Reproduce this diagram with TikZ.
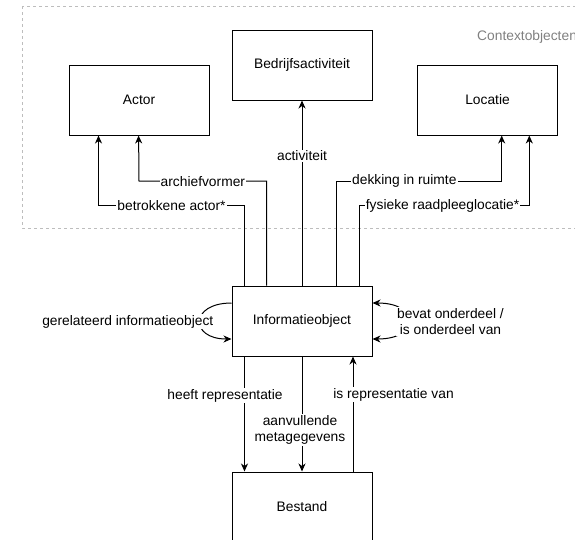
\documentclass[tikz,border=0pt]{standalone}
\usepackage{fontspec}
\setmainfont{Liberation Sans}
\usetikzlibrary{arrows.meta,calc}
\definecolor{ctxgray}{HTML}{808080}
\definecolor{dashgray}{HTML}{BDBDBD}
\begin{document}
\begin{tikzpicture}[x=1pt,y=-1pt,
  every node/.style={font=\fontsize{13.8}{16.6}\selectfont},
  box/.style={draw, line width=1pt, minimum width=140pt, minimum height=70pt, inner sep=0pt, fill=white},
  conn/.style={line width=1pt, -{Stealth[length=8pt,width=7pt,inset=2.5pt]}},
  connboth/.style={line width=1pt, {Stealth[length=8pt,width=7pt,inset=2.5pt]}-{Stealth[length=8pt,width=7pt,inset=2.5pt]}},
  lbl/.style={fill=white, inner sep=1pt, align=center},
  grp/.style={draw=dashgray, line width=0.8pt, dash pattern=on 3pt off 3pt}]
\useasboundingbox (0,0) rectangle (575,539);
\clip (0,0) rectangle (575,539);

% group
\draw[grp] (22,6) rectangle (620,228);
\node[anchor=base west, inner sep=0pt, text=ctxgray] (ctx) at (477,40) {Contextobjecten};

% boxes
\node[box] (actor) at (139,100) {Actor};
\node[box] (bedrijf) at (302,65) {Bedrijfsactiviteit};
\node[box] (locatie) at (487.5,100) {Locatie};
\node[box] (info) at (302,321) {Informatieobject};
\node[box] (bestand) at (302,507) {Bestand};

% upper connectors
\draw[conn] ([xshift=-57.5pt]info.north) -- ++(0,-80)
  -- node[lbl]{betrokkene actor*} ++(-146,0) -- ([xshift=-40.5pt]actor.south);
\draw[conn] ([xshift=-35.3pt]info.north) -- ++(0,-104.3)
  -- node[lbl]{archiefvormer} ++(-127.7,0) -- ([xshift=-0.4pt]actor.south);
\draw[conn] (info.north) -- node[lbl, pos=0.7]{activiteit} (bedrijf.south);
\draw[conn] ([xshift=34.7pt]info.north) -- ++(0,-104.3)
  -- node[lbl, pos=0.41]{dekking in ruimte} ++(165,0) -- ([xshift=14.2pt]locatie.south);
\draw[conn] ([xshift=57.3pt]info.north) -- ++(0,-80)
  -- node[lbl, pos=0.49]{fysieke raadpleeglocatie*} ++(170,0) -- ([xshift=41.8pt]locatie.south);

% self loops
\draw[conn] ([yshift=18pt]info.west) .. controls +(-42,0) and +(-42,0) .. ([yshift=-18pt]info.west);
\node[lbl] (gerel) at (127.8,321.7) {gerelateerd informatieobject};
\draw[connboth] ([yshift=18pt]info.east) .. controls +(48,0) and +(48,0) .. ([yshift=-18pt]info.east);
\node[lbl] (bevat) at (450.5,321.7) {bevat onderdeel /\\is onderdeel van};

% lower connectors
\draw[conn] ([xshift=-57.5pt]info.south) -- node[lbl, pos=0.34, xshift=-19.5pt]{heeft representatie} ([xshift=-57.5pt]bestand.north);
\draw[conn] (info.south) -- node[lbl, pos=0.64, xshift=-2pt]{aanvullende\\metagegevens} (bestand.north);
\draw[conn] ([xshift=51pt]bestand.north) -- node[lbl, pos=0.67, xshift=40.5pt]{is representatie van} ([xshift=51pt]info.south);
\end{tikzpicture}
\end{document}
